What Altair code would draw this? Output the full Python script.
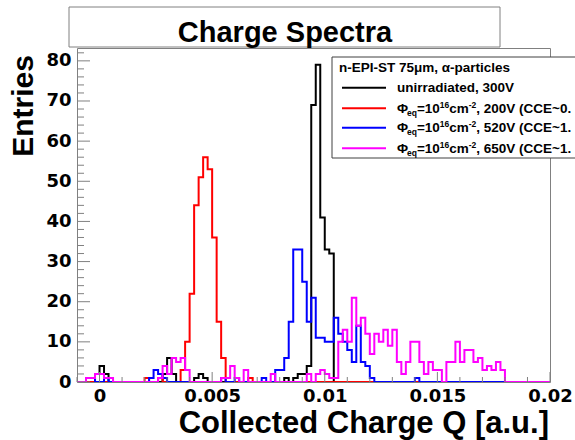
import altair as alt
import pandas as pd

# ---------------- data (histograms: 105 bins of 0.0002 from -0.001 to 0.02) ----------------
Q_MIN = -0.001
BIN_W = 0.0002
NBINS = 105

black_counts = [
    0, 0, 0, 0, 2, 4, 2, 0, 0, 0, 0, 0, 0, 0, 0,
    0, 0, 0, 0, 2, 6, 2, 0, 0, 0, 0, 1, 2, 1, 0,
    0, 0, 0, 0, 0, 0, 0, 0, 0, 0, 0, 0, 0, 0, 0,
    0, 1, 0, 1, 2, 2, 4, 69, 79, 41, 33, 32, 0, 0, 0,
    0, 0, 0, 0, 0, 0, 0, 0, 0, 0, 0, 0, 0, 0, 0,
    0, 0, 0, 0, 0, 0, 0, 0, 0, 0, 0, 0, 0, 0, 0,
    0, 0, 0, 0, 0, 0, 0, 0, 0, 0, 0, 0, 0, 0, 0,
]
red_counts = [
    0, 0, 0, 0, 0, 0, 0, 0, 0, 0, 0, 0, 0, 0, 0,
    1, 0, 0, 1, 0, 0, 0, 0, 3, 10, 22, 44, 51, 56, 53,
    36, 15, 6, 0, 0, 0, 0, 0, 1, 0, 0, 0, 0, 0, 0,
    0, 0, 0, 0, 0, 0, 0, 0, 0, 0, 0, 0, 0, 0, 0,
    0, 0, 0, 0, 0, 0, 0, 0, 0, 0, 0, 0, 0, 0, 0,
    0, 0, 0, 0, 0, 0, 0, 0, 0, 0, 0, 0, 0, 0, 0,
    0, 0, 0, 0, 0, 0, 0, 0, 0, 0, 0, 0, 0, 0, 0,
]
blue_counts = [
    0, 0, 1, 1, 0, 0, 1, 0, 0, 0, 0, 0, 0, 0, 0,
    0, 1, 3, 2, 1, 0, 0, 0, 0, 0, 0, 0, 0, 0, 0,
    0, 0, 1, 0, 0, 1, 0, 0, 0, 0, 0, 1, 0, 0, 3,
    3, 6, 15, 33, 33, 25, 15, 21, 11, 11, 10, 10, 16, 12, 10,
    8, 5, 14, 5, 4, 1, 0, 0, 0, 0, 0, 0, 0, 0, 0,
    1, 0, 0, 0, 0, 0, 0, 0, 0, 0, 0, 0, 0, 0, 0,
    0, 0, 0, 0, 0, 0, 0, 0, 0, 0, 0, 0, 0, 0, 0,
]
magenta_counts = [
    0, 0, 1, 1, 2, 2, 1, 1, 0, 0, 0, 0, 0, 0, 0,
    0, 0, 0, 1, 4, 2, 6, 5, 6, 3, 0, 0, 0, 0, 0,
    0, 0, 1, 1, 4, 1, 0, 3, 0, 0, 0, 0, 0, 2, 0,
    0, 0, 0, 0, 0, 0, 2, 0, 2, 3, 2, 1, 1, 10, 13,
    10, 21, 14, 16, 12, 7, 12, 10, 13, 9, 13, 5, 2, 5, 10,
    10, 5, 2, 5, 3, 3, 0, 5, 5, 10, 5, 8, 8, 5, 6,
    3, 4, 3, 5, 3, 0, 0, 0, 0, 0, 0, 0, 0, 0, 0,
]

series_names = ["unirradiated", "200V", "520V", "650V"]
series_colors = ["#000000", "#ff0000", "#0000ff", "#ff00ff"]
series_counts = [black_counts, red_counts, blue_counts, magenta_counts]

x_tick_labels = [0, 0.005, 0.01, 0.015, 0.02]
y_tick_labels = [0, 10, 20, 30, 40, 50, 60, 70, 80]

title_text = "Charge Spectra"
x_title = "Collected Charge Q [a.u.]"
y_title = "Entries"
legend_header = "n-EPI-ST 75\u03bcm, \u03b1-particles"
legend_first = "unirradiated, 300V"
legend_tails = [", 200V (CCE~0.", ", 520V (CCE~1.", ", 650V (CCE~1."]

# ---------------- layout ----------------
W, H = 473, 334
PAD = {"left": 77, "top": 48, "right": 25, "bottom": 58}
FONT = "DejaVu Sans"
LFONT = "Liberation Sans"
FRAME = "#808080"

xscale = alt.Scale(domain=[Q_MIN, Q_MIN + NBINS * BIN_W], nice=False, zero=False)
yscale = alt.Scale(domain=[0, 83.2], nice=False, zero=True)

XAX = alt.Axis(values=x_tick_labels, format="~g", labelFont=FONT, labelFontWeight="bold",
               labelFontSize=18, labelColor="black", ticks=False, tickSize=0, domain=False,
               grid=False, title=None, labelPadding=5, labelFlush=False)
YAX = alt.Axis(values=y_tick_labels, format="d", labelFont=FONT, labelFontWeight="bold",
               labelFontSize=18, labelColor="black", ticks=False, tickSize=0, domain=False,
               grid=False, title=None, labelPadding=6)

one = pd.DataFrame({"d": [0]})
layers = []

# histogram step lines
for name, col, counts in zip(series_names, series_colors, series_counts):
    rows = []
    for i, c in enumerate(counts):
        rows.append({"q": Q_MIN + i * BIN_W, "n": c, "o": i})
    rows.append({"q": Q_MIN + NBINS * BIN_W, "n": counts[-1], "o": NBINS})
    df = pd.DataFrame(rows)
    layers.append(
        alt.Chart(df).mark_line(interpolate="step-after", strokeWidth=2, color=col, clip=True).encode(
            x=alt.X("q:Q", scale=xscale, axis=XAX),
            y=alt.Y("n:Q", scale=yscale, axis=YAX),
            order="o:Q",
        )
    )

# inward ticks (ROOT style)
y_major = list(range(0, 81, 10))
y_minor = [v for v in range(0, 84, 2) if v % 10 != 0]
x_major = [k / 1000 for k in range(0, 21, 5)]
x_minor = [k / 1000 for k in range(-1, 21) if k % 5 != 0]

layers.append(alt.Chart(pd.DataFrame({"n": y_major})).mark_rule(color=FRAME, strokeWidth=1).encode(
    y=alt.Y("n:Q", scale=yscale, axis=YAX), x=alt.value(0), x2=alt.value(13)))
layers.append(alt.Chart(pd.DataFrame({"n": y_minor})).mark_rule(color=FRAME, strokeWidth=1).encode(
    y=alt.Y("n:Q", scale=yscale, axis=YAX), x=alt.value(0), x2=alt.value(7)))
layers.append(alt.Chart(pd.DataFrame({"q": x_major})).mark_rule(color=FRAME, strokeWidth=1).encode(
    x=alt.X("q:Q", scale=xscale, axis=XAX), y=alt.value(H), y2=alt.value(H - 10)))
layers.append(alt.Chart(pd.DataFrame({"q": x_minor})).mark_rule(color=FRAME, strokeWidth=1).encode(
    x=alt.X("q:Q", scale=xscale, axis=XAX), y=alt.value(H), y2=alt.value(H - 5)))

# title box
layers.append(alt.Chart(one).mark_rect(fill="white", stroke=FRAME, strokeWidth=1).encode(
    x=alt.value(-8), x2=alt.value(423), y=alt.value(-41), y2=alt.value(-1)))
layers.append(alt.Chart(one).mark_text(text=title_text, font=LFONT, fontWeight="bold", fontSize=29,
                                       align="center", baseline="alphabetic", color="black").encode(
    x=alt.value(208), y=alt.value(-6.5)))

# axis titles
layers.append(alt.Chart(one).mark_text(text=y_title, font=LFONT, fontWeight="bold", fontSize=30, angle=270,
                                       align="center", baseline="alphabetic", color="black").encode(
    x=alt.value(-44), y=alt.value(58)))
layers.append(alt.Chart(one).mark_text(text=x_title, font=LFONT, fontWeight="bold", fontSize=31,
                                       align="right", baseline="alphabetic", color="black").encode(
    x=alt.value(472), y=alt.value(385)))

# legend
layers.append(alt.Chart(one).mark_rect(fill="white", stroke="#404040", strokeWidth=1).encode(
    x=alt.value(255), x2=alt.value(560), y=alt.value(9), y2=alt.value(110)))
layers.append(alt.Chart(one).mark_text(text=legend_header, font=LFONT, fontWeight="bold", fontSize=13.5,
                                       align="left", baseline="alphabetic", color="black").encode(
    x=alt.value(262), y=alt.value(24)))

MAIN, SUB = 13.5, 8.5
# advance widths (em) of Liberation Sans Bold for sequential layout
pieces_tpl = [
    ("\u03a6", 0, MAIN, 0.74),
    ("eq", 3, SUB, 1.167),
    ("=10", 0, MAIN, 1.696),
    ("16", -5, SUB, 1.112),
    ("cm", 0, MAIN, 1.445),
    ("-2", -5, SUB, 0.889),
]
row_y = [39.7, 60.3, 79.7, 100.3]
for j, (col, yy) in enumerate(zip(series_colors, row_y)):
    layers.append(alt.Chart(one).mark_rule(color=col, strokeWidth=2).encode(
        x=alt.value(265), x2=alt.value(309), y=alt.value(yy)))
    base = yy + 4.5
    if j == 0:
        layers.append(alt.Chart(one).mark_text(text=legend_first, font=LFONT, fontWeight="bold", fontSize=MAIN,
                                               align="left", baseline="alphabetic", color="black").encode(
            x=alt.value(320), y=alt.value(base)))
    else:
        px = 320.0
        for txt, dy, fs, em in pieces_tpl + [(legend_tails[j - 1], 0, MAIN, 0)]:
            layers.append(alt.Chart(one).mark_text(text=txt, font=LFONT, fontWeight="bold", fontSize=fs,
                                                   align="left", baseline="alphabetic", color="black").encode(
                x=alt.value(px), y=alt.value(base + dy)))
            px += em * fs

chart = alt.layer(*layers).properties(
    width=W, height=H,
    autosize=alt.AutoSizeParams(type="none"),
    padding=PAD,
    background="white",
).configure_view(stroke=FRAME, strokeWidth=1)

chart.save("out.html", embed_options={"renderer": "svg", "actions": False})
